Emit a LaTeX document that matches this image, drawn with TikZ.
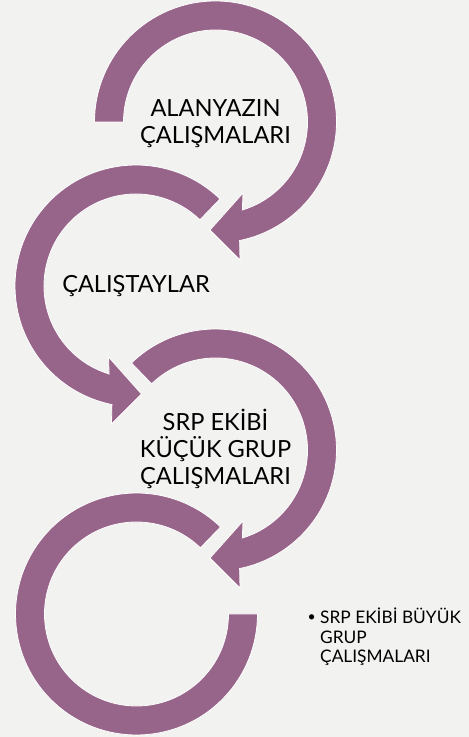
\documentclass[tikz,border=0pt]{standalone}
\usepackage{fontspec}
\setmainfont{Lato}
\usepackage{tikz}
\usetikzlibrary{positioning}

\definecolor{ringpurple}{HTML}{97648A}
\definecolor{slidegray}{HTML}{F2F2F1}

\begin{document}
\begin{tikzpicture}[x=1pt, y=1pt,
    ring/.style={fill=ringpurple, draw=white, line width=0.8pt, line join=miter},
    bigtext/.style={font=\fontsize{23.6}{27}\selectfont, align=center, inner sep=0pt},
    listtext/.style={font=\fontsize{17.3}{19.5}\selectfont, align=left, inner sep=0pt}]
    % 1. Slide background (fixes the size)
    \fill[slidegray] (0,0) rectangle (469,737);
    \useasboundingbox (0,0) rectangle (469,737);

    % 2. Ring centres
    \coordinate (C1) at (215.5,615);
    \coordinate (C2) at (136,451);
    \coordinate (C3) at (215.5,287);
    \coordinate (C4) at (136.5,123);

    % 3. First ring: from the left, clockwise, arrow at the bottom
    \draw[ring, shift={(C1)}] (180:121) arc[start angle=180, end angle=-78.5, radius=121]
        -- (24.5,-138) -- (-5.5,-108) -- (27.5,-71)
        -- (-73:92) arc[start angle=-73, end angle=180, radius=92] -- cycle;

    % 4. Second ring: mirrored, arrow points right
    \draw[ring, shift={(C2)}, xscale=-1] (134:121) arc[start angle=134, end angle=-78.5, radius=121]
        -- (24.5,-138) -- (-5.5,-108) -- (27.5,-71)
        -- (-73:92) arc[start angle=-73, end angle=134, radius=92] -- cycle;

    % 5. Third ring: like the first, cut at upper left
    \draw[ring, shift={(C3)}] (134:121) arc[start angle=134, end angle=-78.5, radius=121]
        -- (24.5,-138) -- (-5.5,-108) -- (27.5,-71)
        -- (-73:92) arc[start angle=-73, end angle=134, radius=92] -- cycle;

    % 6. Last ring, no arrow head
    \draw[ring, shift={(C4)}, xscale=-1] (134:121) arc[start angle=134, end angle=-180, radius=121]
        -- (-180:92) arc[start angle=-180, end angle=134, radius=92] -- cycle;

    % 7. Labels (base = last line)
    \node[bigtext, anchor=base] (alanyazin) at (215.5,593) {ALANYAZIN\\ÇALIŞMALARI};
    \node[bigtext, anchor=base] (calistay) at (136,444) {ÇALIŞTAYLAR};
    \node[bigtext, anchor=base] (kucuk) at (215.5,252) {SRP EKİBİ\\KÜÇÜK GRUP\\ÇALIŞMALARI};

    % 8. Bullet text at the right
    \node[listtext, anchor=base west] (buyuk) at (320,74) {SRP EKİBİ BÜYÜK\\GRUP\\ÇALIŞMALARI};
    \node[font=\fontsize{14}{14}\selectfont, inner sep=0pt, anchor=base east] (dot) at (316,115) {•};
\end{tikzpicture}
\end{document}
